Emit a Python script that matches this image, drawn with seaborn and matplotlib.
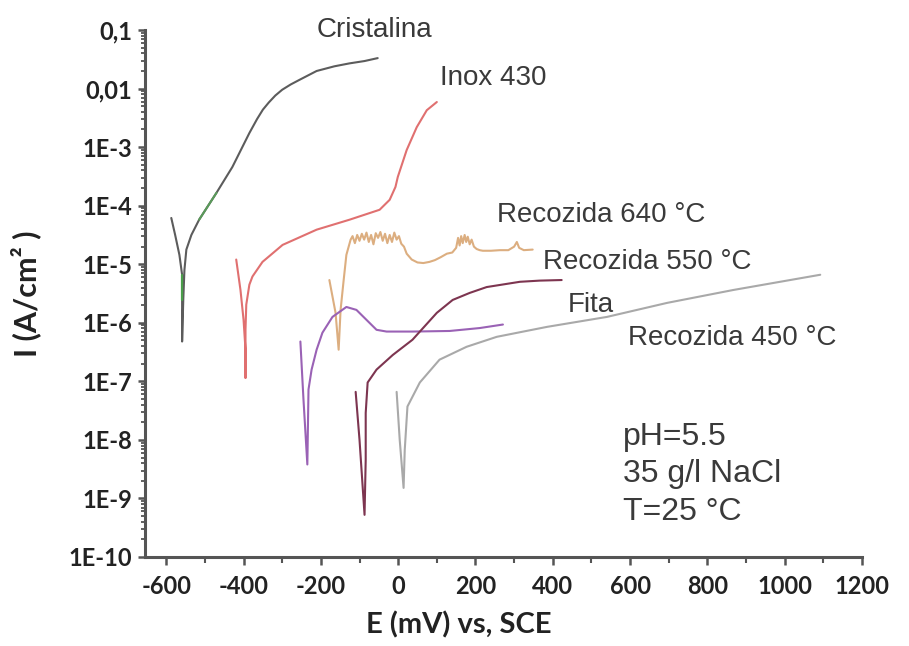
import numpy as np
import pandas as pd
import matplotlib
matplotlib.use("Agg")
import matplotlib.pyplot as plt
import seaborn as sns
from matplotlib.ticker import FixedLocator, LogLocator, NullFormatter, MultipleLocator

# ---------------- data (E in mV vs SCE, log10 of I in A/cm2) ----------------
cristalina_E = [-587, -577, -566, -559, -559, -559, -556, -553, -548, -535, -515, -470,
                -429, -385, -365, -350, -335, -318, -300, -278, -255, -211, -165, -126,
                -87, -53]
cristalina_logI = [-4.21, -4.50, -4.84, -5.18, -5.61, -6.32, -5.61, -5.10, -4.75, -4.50,
                   -4.24, -3.78, -3.34, -2.76, -2.52, -2.36, -2.24, -2.12, -2.02, -1.93,
                   -1.85, -1.70, -1.62, -1.57, -1.53, -1.48]

inox_E = [-419, -408, -400, -395, -395, -395, -393, -385, -377, -351, -299, -211, -126,
          -48, -22, -7, -1, 22, 48, 74, 100]
inox_logI = [-4.92, -5.44, -5.95, -6.46, -6.94, -6.12, -5.69, -5.35, -5.21, -4.96, -4.67,
             -4.41, -4.24, -4.07, -3.90, -3.68, -3.51, -3.05, -2.66, -2.37, -2.23]

rec640_E = [-178, -162, -154, -149, -141, -134, -123,
            -118, -112, -106, -100, -94, -88, -82, -76, -70, -64, -58, -52, -46, -40,
            -34, -28, -22, -16, -10, -4, 2, 8,
            15, 22, 35, 50, 65, 81, 95, 110, 126, 140, 150, 155, 159, 163, 167, 172,
            176, 180, 185, 190, 196, 203, 211, 219, 240, 263, 285, 300, 307, 313, 325, 348]
rec640_logI = [-5.27, -5.83, -6.46, -5.78, -5.27, -4.84, -4.58,
               -4.52, -4.64, -4.50, -4.60, -4.48, -4.58, -4.46, -4.62, -4.50, -4.66, -4.47,
               -4.55, -4.45, -4.60, -4.48, -4.64, -4.50, -4.62, -4.46, -4.58, -4.52, -4.65,
               -4.70, -4.82, -4.92, -4.97, -4.98, -4.96, -4.93, -4.88, -4.82, -4.80, -4.72,
               -4.55, -4.68, -4.52, -4.64, -4.50, -4.62, -4.53, -4.66, -4.58, -4.70, -4.74,
               -4.76, -4.77, -4.77, -4.76, -4.76, -4.70, -4.62, -4.72, -4.76, -4.75]

fita_E = [-253, -245, -235, -232, -224, -211, -196, -170, -134, -108, -82, -56, -30, 37,
          133, 211, 271]
fita_logI = [-6.32, -7.31, -8.42, -7.14, -6.80, -6.46, -6.17, -5.90, -5.73, -5.78, -5.95,
             -6.12, -6.15, -6.15, -6.14, -6.09, -6.03]

rec550_E = [-110, -100, -87, -84, -84, -79, -56, -14, 37, 100, 141, 185, 229, 315, 366, 423]
rec550_logI = [-7.18, -8.00, -9.28, -8.34, -7.54, -7.02, -6.80, -6.55, -6.29, -5.83, -5.61,
               -5.49, -5.39, -5.30, -5.28, -5.27]

rec450_E = [-4, 4, 14, 17, 24, 56, 107, 177, 255, 385, 540, 696, 867, 1092]
rec450_logI = [-7.18, -8.00, -8.82, -8.17, -7.43, -7.02, -6.63, -6.41, -6.24, -6.07, -5.90,
               -5.66, -5.44, -5.18]

series_names = ["Cristalina", "Inox 430", "Recozida 640 °C", "Fita",
                "Recozida 550 °C", "Recozida 450 °C"]
series_colors = ["#5c5c5c", "#e07070", "#dcae80", "#9a62b5", "#7d3550", "#a9a9a9"]

# curve labels: (text, E, log10 I, horizontal alignment)
label_texts = ["Cristalina", "Inox 430", "Recozida 640 °C", "Recozida 550 °C", "Fita",
               "Recozida 450 °C"]
label_E = [-61, 245, 255, 374, 439, 594]
label_logI = [-1.0, -1.82, -4.16, -4.96, -5.69, -6.26]
label_ha = ["center", "center", "left", "left", "left", "left"]

cond_lines = ["pH=5.5", "35 g/l NaCl", "T=25 °C"]
cond_E = 581
cond_logI = [-7.95, -8.59, -9.23]

x_major = [-600, -400, -200, 0, 200, 400, 600, 800, 1000, 1200]
y_major = [1e-10, 1e-9, 1e-8, 1e-7, 1e-6, 1e-5, 1e-4, 1e-3, 1e-2, 1e-1]
y_labels = ["1E-10", "1E-9", "1E-8", "1E-7", "1E-6", "1E-5", "1E-4", "1E-3", "0,01", "0,1"]

# ---------------- build table ----------------
all_E = [cristalina_E, inox_E, rec640_E, fita_E, rec550_E, rec450_E]
all_logI = [cristalina_logI, inox_logI, rec640_logI, fita_logI, rec550_logI, rec450_logI]
frames = []
for name, E, lg in zip(series_names, all_E, all_logI):
    frames.append(pd.DataFrame({"E": E, "I": 10 ** np.array(lg), "Amostra": name}))
df = pd.concat(frames, ignore_index=True)

# ---------------- style ----------------
sns.set_style("white")
plt.rcParams["font.family"] = ["Lato", "DejaVu Sans"]
text_color = "#3a3a3a"
spine_color = "#555555"

fig = plt.figure(figsize=(9.09, 6.46), dpi=100)
ax = fig.add_axes([145 / 909, 1 - 557 / 646, (862 - 145) / 909, (557 - 30) / 646])

sns.lineplot(data=df, x="E", y="I", hue="Amostra", hue_order=series_names,
             palette=dict(zip(series_names, series_colors)), sort=False,
             estimator=None, legend=False, linewidth=1.5, ax=ax)

# green portions of the Cristalina curve
green_df = pd.DataFrame({"E": cristalina_E[3:5], "I": 10 ** np.array(cristalina_logI[3:5])})
sns.lineplot(data=green_df, x="E", y="I", sort=False, estimator=None, color="#4a9e4a",
             linewidth=1.6, ax=ax)
green_df2 = pd.DataFrame({"E": cristalina_E[10:12], "I": 10 ** np.array(cristalina_logI[10:12])})
sns.lineplot(data=green_df2, x="E", y="I", sort=False, estimator=None, color="#5a9a5a",
             linewidth=1.5, ax=ax)

ax.set_yscale("log")
ax.set_xlim(-655, 1200)
ax.set_ylim(1e-10, 1e-1)

ax.xaxis.set_major_locator(FixedLocator(x_major))
ax.set_xticklabels([str(v) for v in x_major])
ax.xaxis.set_minor_locator(MultipleLocator(100))
ax.yaxis.set_major_locator(FixedLocator(y_major))
ax.set_yticklabels(y_labels)
ax.yaxis.set_minor_locator(LogLocator(base=10, subs=np.arange(2, 10), numticks=20))
ax.yaxis.set_minor_formatter(NullFormatter())

for side in ["top", "right"]:
    ax.spines[side].set_visible(False)
for side in ["left", "bottom"]:
    ax.spines[side].set_color(spine_color)
    ax.spines[side].set_linewidth(2.2)

ax.tick_params(axis="x", which="major", direction="out", length=6, width=1.8,
               color=spine_color, pad=7, labelsize=17, labelcolor="#222222", bottom=True)
ax.tick_params(axis="x", which="minor", direction="out", length=4, width=1.5,
               color=spine_color, bottom=True)
ax.tick_params(axis="y", which="major", direction="out", length=5, width=1.8,
               color=spine_color, pad=4, labelsize=17, labelcolor="#222222", left=True)
ax.tick_params(axis="y", which="minor", direction="out", length=3, width=1.3,
               color=spine_color, left=True)
for lab in ax.get_xticklabels() + ax.get_yticklabels():
    lab.set_fontweight("bold")

ax.set_xlabel("E (mV) vs, SCE", fontsize=21, fontweight="bold", color="#222222")
ax.xaxis.set_label_coords(0.437, -0.129)
ax.xaxis.label.set_va("center")
ax.set_ylabel("I (A/cm² )", fontsize=22, fontweight="bold", color="#222222")
ax.yaxis.set_label_coords(-0.167, 0.5)
ax.yaxis.label.set_va("center")

for t, e, lg, ha in zip(label_texts, label_E, label_logI, label_ha):
    ax.text(e, 10 ** lg, t, ha=ha, va="center", fontsize=20, color=text_color,
            family=["Liberation Sans", "DejaVu Sans"], clip_on=False)
for t, lg in zip(cond_lines, cond_logI):
    ax.text(cond_E, 10 ** lg, t, ha="left", va="center", fontsize=23, color=text_color,
            family=["Liberation Sans", "DejaVu Sans"])

ax.set_facecolor("white")
fig.patch.set_facecolor("white")
fig.savefig("out.png", dpi=100)
